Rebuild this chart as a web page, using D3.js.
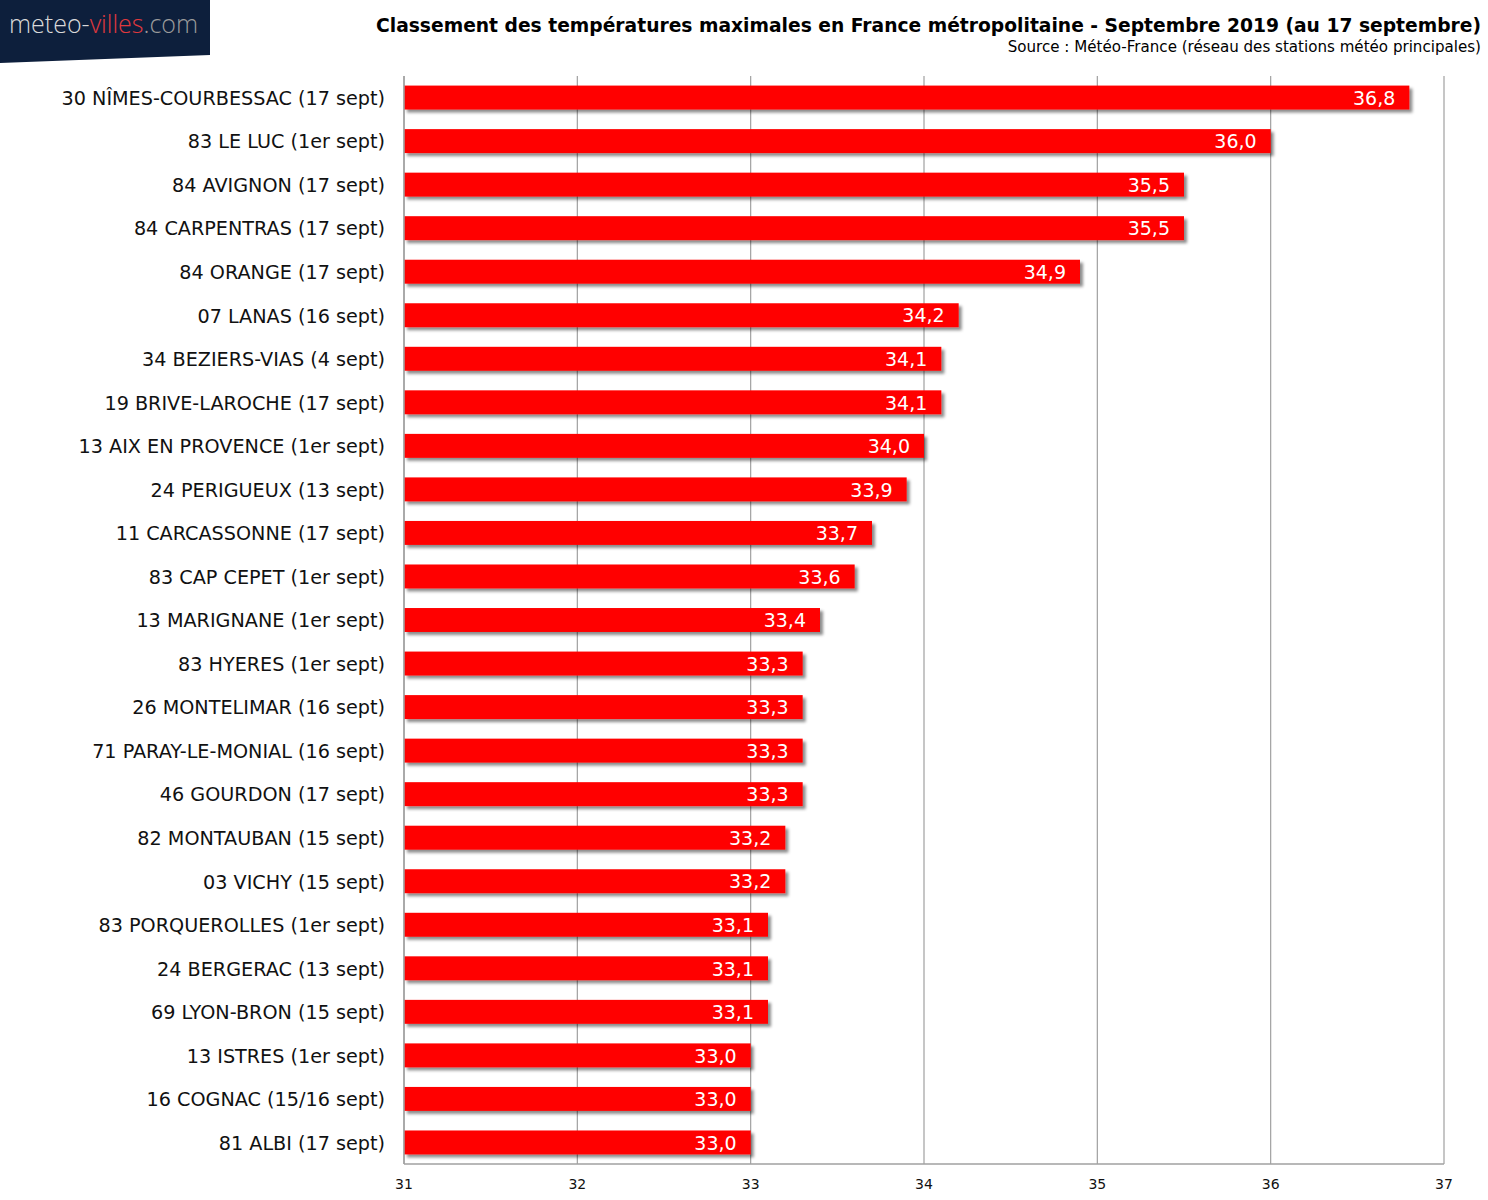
<!DOCTYPE html>
<html>
<head>
<meta charset="utf-8">
<script src="https://cdn.jsdelivr.net/npm/d3@7"></script>
<style>
	body { margin: 0; background: #fff; }
	svg { display: block; font-family: "DejaVu Sans", Verdana, sans-serif; }
</style>
</head>
<body>
<svg id="chart" width="1488" height="1200"></svg>
<script>
const stations = [
	'30 NÎMES-COURBESSAC (17 sept)',
	'83 LE LUC (1er sept)',
	'84 AVIGNON (17 sept)',
	'84 CARPENTRAS (17 sept)',
	'84 ORANGE (17 sept)',
	'07 LANAS (16 sept)',
	'34 BEZIERS-VIAS (4 sept)',
	'19 BRIVE-LAROCHE (17 sept)',
	'13 AIX EN PROVENCE (1er sept)',
	'24 PERIGUEUX (13 sept)',
	'11 CARCASSONNE (17 sept)',
	'83 CAP CEPET (1er sept)',
	'13 MARIGNANE (1er sept)',
	'83 HYERES (1er sept)',
	'26 MONTELIMAR (16 sept)',
	'71 PARAY-LE-MONIAL (16 sept)',
	'46 GOURDON (17 sept)',
	'82 MONTAUBAN (15 sept)',
	'03 VICHY (15 sept)',
	'83 PORQUEROLLES (1er sept)',
	'24 BERGERAC (13 sept)',
	'69 LYON-BRON (15 sept)',
	'13 ISTRES (1er sept)',
	'16 COGNAC (15/16 sept)',
	'81 ALBI (17 sept)'
];
const tmax = [36.8, 36.0, 35.5, 35.5, 34.9, 34.2, 34.1, 34.1, 34.0, 33.9, 33.7, 33.6, 33.4,
	33.3, 33.3, 33.3, 33.3, 33.2, 33.2, 33.1, 33.1, 33.1, 33.0, 33.0, 33.0];
const ticks = [31, 32, 33, 34, 35, 36, 37];

const title = 'Classement des températures maximales en France métropolitaine - Septembre 2019 (au 17 septembre)';
const source = 'Source : Météo-France (réseau des stations météo principales)';

const svg = d3.select('#chart');
const plotL = 404, plotR = 1444, plotT = 76, plotB = 1164;

const x = d3.scaleLinear().domain([31, 37]).range([plotL, plotR]);
const y = d3.scaleBand().domain(stations).range([plotT, plotB]).paddingInner(0.45).paddingOuter(0.22);

// shadow under the bars
const defs = svg.append('defs');
defs.append('filter')
	.attr('id', 'shadow')
	.attr('x', '-5%').attr('y', '-30%').attr('width', '110%').attr('height', '180%')
	.append('feDropShadow')
	.attr('dx', 3).attr('dy', 3).attr('stdDeviation', 1.8)
	.attr('flood-color', '#000').attr('flood-opacity', 0.45);

// logo
const logo = svg.append('g');
logo.append('path')
	.attr('d', 'M0,0H210V55L0,63Z')
	.attr('fill', '#0d1f3c');
const lt = logo.append('text')
	.attr('x', 9).attr('y', 33)
	.attr('font-family', '"Open Sans", "Noto Sans", sans-serif')
	.attr('font-size', 25).attr('font-weight', 300);
lt.append('tspan').attr('fill', '#d9d9d9').text('meteo-');
lt.append('tspan').attr('fill', '#e0393e').text('villes');
lt.append('tspan').attr('fill', '#9a9a9a').text('.com');

// titles
svg.append('text')
	.attr('x', 1481).attr('y', 32)
	.attr('text-anchor', 'end')
	.attr('font-size', 18.7).attr('font-weight', 'bold')
	.attr('fill', '#000')
	.text(title);
svg.append('text')
	.attr('x', 1481).attr('y', 52)
	.attr('text-anchor', 'end')
	.attr('font-size', 15.1)
	.attr('fill', '#000')
	.text(source);

// grid
svg.append('g')
	.selectAll('line')
	.data(ticks)
	.join('line')
	.attr('x1', d => x(d)).attr('x2', d => x(d))
	.attr('y1', plotT).attr('y2', plotB)
	.attr('stroke', '#a0a0a0').attr('stroke-width', 1.2);

// bars
const bars = svg.append('g')
	.selectAll('g')
	.data(stations)
	.join('g');

bars.append('rect')
	.attr('x', x(31))
	.attr('y', d => y(d))
	.attr('width', (d, i) => x(tmax[i]) - x(31))
	.attr('height', y.bandwidth())
	.attr('fill', '#ff0000')
	.attr('filter', 'url(#shadow)');

bars.append('text')
	.attr('x', (d, i) => x(tmax[i]) - 14)
	.attr('y', d => y(d) + y.bandwidth() / 2)
	.attr('dy', '0.38em')
	.attr('text-anchor', 'end')
	.attr('font-size', 19)
	.attr('fill', '#fff')
	.text((d, i) => tmax[i].toFixed(1).replace('.', ','));

// station labels
svg.append('g')
	.selectAll('text')
	.data(stations)
	.join('text')
	.attr('x', 385)
	.attr('y', d => y(d) + y.bandwidth() / 2)
	.attr('dy', '0.38em')
	.attr('text-anchor', 'end')
	.attr('font-size', 19.2)
	.attr('fill', '#111')
	.text(d => d);

// axes lines
svg.append('line')
	.attr('x1', plotL).attr('x2', plotR)
	.attr('y1', plotB).attr('y2', plotB)
	.attr('stroke', '#a0a0a0').attr('stroke-width', 1.5);
svg.append('line')
	.attr('x1', plotL).attr('x2', plotL)
	.attr('y1', plotT).attr('y2', plotB)
	.attr('stroke', '#a0a0a0').attr('stroke-width', 1.5);

// tick labels
svg.append('g')
	.selectAll('text')
	.data(ticks)
	.join('text')
	.attr('x', d => x(d))
	.attr('y', 1189)
	.attr('text-anchor', 'middle')
	.attr('font-size', 14)
	.attr('fill', '#111')
	.text(d => d);
</script>
</body>
</html>
